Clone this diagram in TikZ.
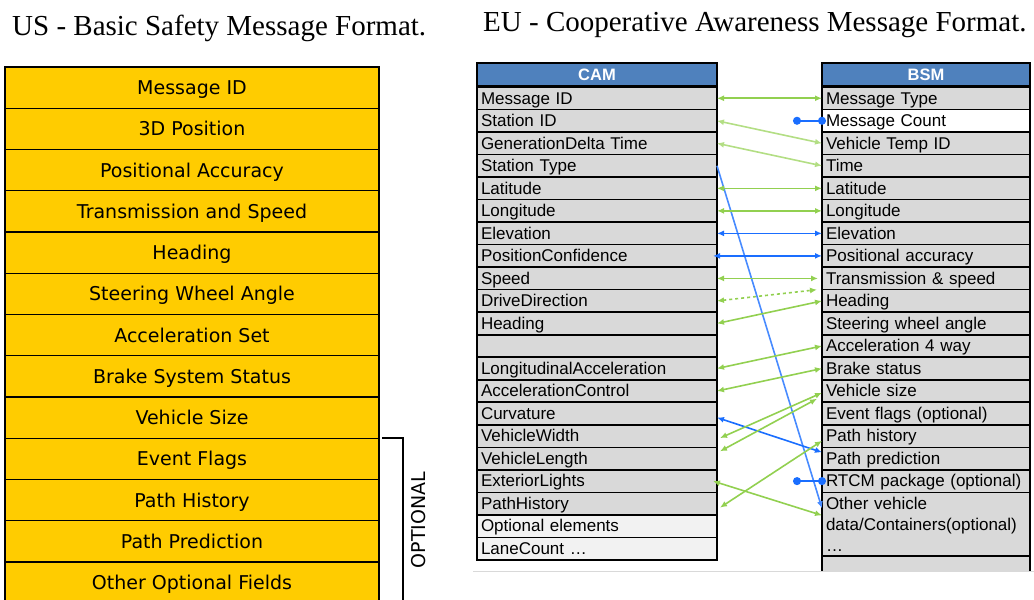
\documentclass[tikz,border=0pt]{standalone}
\usepackage{fontspec}
\setmainfont{Liberation Serif}
\newfontfamily\djv{DejaVu Sans}
\newfontfamily\arl{Liberation Sans}
\usetikzlibrary{positioning,arrows.meta}
\definecolor{usyellow}{HTML}{FFCC00}
\definecolor{hdblue}{HTML}{4F81BD}
\definecolor{cellgray}{HTML}{D9D9D9}
\definecolor{optgray}{HTML}{F2F2F2}
\definecolor{lgreen}{HTML}{92D050}
\definecolor{lblue}{HTML}{1A6EFF}

\begin{document}
\begin{tikzpicture}[x=1pt,y=-1pt,
  us row/.style={draw=black,line width=1.2pt,fill=usyellow,minimum width=374pt,minimum height=41.25pt,inner sep=0pt,outer sep=0pt,text height=17pt,text depth=3pt,font=\djv\fontsize{19}{22}\selectfont},
  tab cell/.style={draw=black,line width=1.6pt,inner xsep=4pt,inner ysep=0pt,outer sep=0pt,align=left,font=\arl\fontsize{17}{21}\selectfont},
  row text/.style={minimum height=22.52pt,text height=14.5pt,text depth=3pt},
  cam cell/.style={tab cell,fill=cellgray,text width=232pt},
  bsm cell/.style={tab cell,fill=cellgray,text width=200pt},
  head cell/.style={draw=black,line width=1.6pt,fill=hdblue,text=white,inner sep=0pt,outer sep=0pt,minimum height=23pt,font=\arl\bfseries\fontsize{16.5}{19}\selectfont},
  fmt title/.style={inner sep=0pt,anchor=base west,font=\fontsize{29}{34}\selectfont},
  link/.style={draw=lgreen,line width=1.6pt,{Latex[length=7pt,width=6pt]}-{Latex[length=7pt,width=6pt]}},
  blink/.style={link,draw=lblue},
  dotlink/.style={draw=lblue,line width=1.6pt,{Circle[length=8pt]}-{Circle[length=8pt]},shorten <=-4pt,shorten >=-4pt}]
\useasboundingbox (0,0) rectangle (1034,600);

% titles
\node[fmt title] (ustitle) at (12,35) {US - Basic Safety Message Format.};
\node[fmt title] (eutitle) at (483,31) {EU - Cooperative Awareness Message Format.};

% US basic safety message
\foreach \lbl [count=\i] in {Message ID,3D Position,Positional Accuracy,Transmission and Speed,Heading,Steering Wheel Angle,Acceleration Set,Brake System Status,Vehicle Size,Event Flags,Path History,Path Prediction,Other Optional Fields}
  \node[us row] (us\i) at (192,{87.6+41.25*(\i-1)}) {\lbl};

\coordinate[right=3pt of us10.north east] (optstart);
\draw[line width=1.8pt] (optstart) -- ++(21,0) -- ++(0,175);
\node[rotate=90,inner sep=0pt,font=\djv\fontsize{19}{22}\selectfont] (opt) at (419,520) {OPTIONAL};

% CAM table
\node[head cell,minimum width=240pt] (cam0) at (597,74.5) {CAM};
\foreach \lbl [count=\i] in {Message ID,Station ID,GenerationDelta Time,Station Type,Latitude,Longitude,Elevation,PositionConfidence,Speed,DriveDirection,Heading,{},LongitudinalAcceleration,AccelerationControl,Curvature,VehicleWidth,VehicleLength,ExteriorLights,PathHistory}
  \node[cam cell,row text] (cam\i) at (597,{98.26+22.52*(\i-1)}) {\lbl};
\node[cam cell,row text,fill=optgray,below=0pt of cam19] (cam20) {Optional elements};
\node[cam cell,row text,fill=optgray,below=0pt of cam20] (cam21) {LaneCount …};

% BSM table
\node[head cell,minimum width=208pt] (bsm0) at (926,74.5) {BSM};
\foreach \lbl/\clr [count=\i] in {Message Type/cellgray,Message Count/white,Vehicle Temp ID/cellgray,Time/cellgray,Latitude/cellgray,Longitude/cellgray,Elevation/cellgray,Positional accuracy/cellgray,Transmission \& speed/cellgray,Heading/cellgray,Steering wheel angle/cellgray,Acceleration 4 way/cellgray,Brake status/cellgray,Vehicle size/cellgray,Event flags (optional)/cellgray,Path history/cellgray,Path prediction/cellgray,RTCM package (optional)/cellgray}
  \node[bsm cell,row text,fill=\clr] (bsm\i) at (926,{98.26+22.52*(\i-1)}) {\lbl};
\node[bsm cell,minimum height=63.6pt,below=0pt of bsm18] (bsm19) {Other vehicle\\data/Containers(optional)\\…};
\begin{scope}
  \clip (800,540) rectangle (1040,571);
  \node[bsm cell,row text,below=0pt of bsm19] (bsm20) {};
\end{scope}
\draw[gray!30,line width=1.5pt] (473,571.5) -- (1034,571.5);

% mappings
\coordinate[left=25pt of bsm2.west] (mcdot);
\coordinate[left=25pt of bsm18.west] (rtdot);
\draw[link] (cam1.east) -- (bsm1.west);
\draw[dotlink] (mcdot) -- (bsm2.west);
\draw[link,draw=lgreen!70] (cam2.east) -- (bsm3.west);
\draw[link,draw=lgreen!70] (cam3.east) -- (bsm4.west);
\draw[blink,draw=lblue!80,-{Latex[length=7pt,width=6pt]}] (cam4.east) -- ([yshift=-16pt]bsm19.north west);
\draw[link] (cam5.east) -- (bsm5.west);
\draw[link] (cam6.east) -- (bsm6.west);
\draw[blink] (cam7.east) -- (bsm7.west);
\draw[blink] ([xshift=-4pt]cam8.east) -- (bsm8.west);
\draw[link] (cam9.east) -- ([xshift=-4pt]bsm9.west);
\draw[link,dashed] (cam10.east) -- ([xshift=-5pt]bsm10.north west);
\draw[link] (cam11.east) -- (bsm10.west);
\draw[link] (cam13.east) -- (bsm12.west);
\draw[link] (cam14.east) -- (bsm13.west);
\draw[blink] ([yshift=-4pt]cam15.east) -- ([yshift=-5pt]bsm17.north west);
\draw[link] ([xshift=3pt,yshift=-2pt]cam16.east) -- ([yshift=-13pt]bsm14.north west);
\draw[link] ([xshift=3pt,yshift=-4pt]cam17.north east) -- ([xshift=-5pt,yshift=-19pt]bsm14.north west);
\draw[link] ([xshift=-4pt]cam18.east) -- ([yshift=-23pt]bsm19.north west);
\draw[link] ([xshift=3pt,yshift=-4pt]cam19.east) -- ([yshift=-16pt]bsm16.north west);
\draw[dotlink] (rtdot) -- (bsm18.west);
\end{tikzpicture}
\end{document}
